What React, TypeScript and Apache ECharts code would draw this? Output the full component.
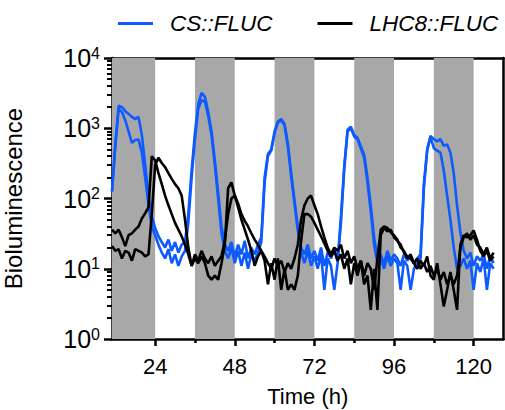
import React, { useEffect, useRef } from "react";
import * as echarts from "echarts";

// ---- data ----
const firstHour = 11; // hourly samples, h = 11 .. 126
const csFluc1 = [
  126, 600, 2100, 2000, 1750, 1600, 1450, 1350, 1450, 800,
  300, 110, 55, 38, 29, 24, 20, 26, 18, 24,
  17, 22, 24, 60, 250, 850, 2200, 3200, 2800, 1700,
  900, 350, 120, 40, 22, 18, 24, 15, 22, 16,
  25, 14, 20, 16, 22, 28, 200, 430, 500, 900,
  1250, 1350, 1150, 600, 230, 95, 40, 20, 16, 22,
  14, 18, 13, 20, 11, 17, 14, 19, 13, 55,
  290, 950, 1050, 800, 730, 550, 420, 200, 80, 28,
  14, 16, 12, 18, 13, 16, 14, 11, 16, 13,
  15, 12, 14, 16, 160, 500, 780, 700, 650, 700,
  560, 590, 450, 230, 80, 33, 18, 14, 17, 11,
  15, 13, 16, 10, 15, 12,
];
const csFluc2 = [
  126, 550, 1900, 1700, 1300, 900, 620, 680, 690, 450,
  200, 80, 40, 30, 22, 17, 14, 19, 12, 16,
  11, 15, 18, 45, 200, 700, 1900, 2500, 2400, 1500,
  800, 300, 100, 32, 18, 14, 20, 12, 18, 11,
  17, 10, 16, 13, 17, 24, 170, 400, 480, 850,
  1200, 1300, 1100, 560, 210, 85, 35, 17, 12, 18,
  11, 15, 10, 16, 5, 14, 11, 5, 12, 45,
  260, 900, 1000, 760, 700, 520, 380, 170, 65, 22,
  12, 14, 10, 15, 11, 14, 12, 5, 13, 11,
  5, 10, 12, 14, 140, 480, 750, 520, 480, 450,
  250, 110, 50, 20, 10, 11, 14, 10, 13, 5,
  12, 9, 14, 5, 12, 10,
];
const lhc8Fluc1 = [
  36, 32, 36, 28, 21, 30, 32, 36, 40, 52,
  62, 75, 400, 350, 230, 160, 110, 80, 60, 45,
  36, 29, 22, 16, 11, 14, 12, 15, 12, 8,
  7, 8, 7, 12, 22, 140, 170, 110, 75, 50,
  36, 26, 18, 11, 15, 18, 13, 6, 12, 7,
  14, 5, 10, 5, 6, 5, 8, 25, 60, 60,
  55, 45, 36, 29, 23, 18, 15, 18, 13, 16,
  10, 14, 6, 12, 8, 13, 6, 8, 2.6, 10,
  2.6, 30, 38, 34, 36, 28, 25, 22, 17, 15,
  14, 12, 10, 13, 11, 15, 8, 7, 12, 6,
  2.9, 5, 9, 5, 2.6, 22, 30, 28, 30, 35,
  26, 18, 15, 18, 13, 15,
];
const lhc8Fluc2 = [
  21, 18, 19, 14, 18, 17, 13, 19, 18, 17,
  15, 16, 60, 300, 380, 320, 280, 230, 190, 160,
  140, 110, 50, 20, 11, 16, 13, 18, 14, 12,
  15, 11, 13, 15, 25, 60, 100, 110, 85, 60,
  48, 40, 32, 26, 22, 18, 15, 12, 10, 14,
  11, 13, 9, 12, 10, 14, 22, 50, 80, 100,
  110, 80, 60, 40, 28, 20, 16, 20, 18, 22,
  14, 18, 12, 15, 10, 13, 8, 12, 10, 5,
  14, 36, 40, 38, 33, 30, 26, 20, 18, 14,
  16, 12, 14, 10, 12, 9, 11, 8, 10, 7,
  9, 6, 8, 6, 8, 20, 28, 32, 26, 30,
  22, 20, 16, 20, 14, 17,
];
const darkPeriods = [
  [11, 24],
  [36, 48],
  [60, 72],
  [84, 96],
  [108, 120],
];
const xMajorTicks = [24, 48, 72, 96, 120];
const xMinorTicks = [36, 60, 84, 108];
const yMinorMultipliers = [2, 3, 4, 5, 6, 7, 8, 9];
const yDecades = [1, 10, 100, 1000];

const BLUE = "#0d5bff";
const GRAY = "#a8a8a8";
const FONT = "'Liberation Sans', Arial, Helvetica, sans-serif";
const X_MIN = 11;
const X_MAX = 129;

function toPairs(values: number[]) {
  return values.map((v, i) => [firstHour + i, v]);
}

const axisLineStyle = { color: "#000", width: 2.5 };

export default function App() {
  const ref = useRef<HTMLDivElement>(null);
  useEffect(() => {
    if (!ref.current) return;
    const chart = echarts.init(ref.current, null, { renderer: "svg" });
    const yMinorLog: number[] = [];
    yDecades.forEach((d) =>
      yMinorMultipliers.forEach((m) => yMinorLog.push(Math.log10(d * m)))
    );
    const lineSeries = (name: string, data: number[], color: string) => ({
      type: "line",
      name,
      data: toPairs(data),
      xAxisIndex: 0,
      yAxisIndex: 0,
      showSymbol: false,
      symbol: "none",
      clip: true,
      z: 3,
      lineStyle: { width: 2.6, color },
      itemStyle: { color },
    });
    chart.setOption({
      animation: false,
      backgroundColor: "#fff",
      textStyle: { fontFamily: FONT },
      grid: {
        left: 112,
        top: 58,
        right: 1.5,
        bottom: 71,
        containLabel: false,
        outerBoundsMode: "none",
      },
      legend: {
        top: 12,
        left: 118,
        width: 420,
        padding: 0,
        icon: "rect",
        itemWidth: 35,
        itemHeight: 3,
        itemGap: 45,
        textStyle: {
          fontSize: 22.5,
          fontStyle: "italic",
          fontFamily: FONT,
          color: "#000",
          padding: [0, 0, 0, 12],
        },
        data: [
          { name: "CS::FLUC", itemStyle: { color: BLUE } },
          { name: "LHC8::FLUC", itemStyle: { color: "#000" } },
        ],
      },
      xAxis: [
        {
          type: "value",
          min: X_MIN,
          max: X_MAX,
          position: "bottom",
          axisLine: { show: true, lineStyle: axisLineStyle },
          axisTick: {
            show: true,
            customValues: xMajorTicks,
            length: 7,
            lineStyle: axisLineStyle,
          },
          axisLabel: {
            customValues: xMajorTicks,
            fontSize: 22,
            color: "#000",
            margin: 16,
            fontFamily: FONT,
          },
          splitLine: { show: false },
          name: "Time (h)",
          nameLocation: "middle",
          nameGap: 46,
          nameTextStyle: { fontSize: 22, color: "#000", fontFamily: FONT },
        },
        {
          type: "value",
          min: X_MIN,
          max: X_MAX,
          position: "bottom",
          axisLine: { show: false },
          axisTick: {
            show: true,
            customValues: xMinorTicks,
            length: 4,
            lineStyle: axisLineStyle,
          },
          axisLabel: { show: false },
          splitLine: { show: false },
        },
        {
          type: "value",
          min: X_MIN,
          max: X_MAX,
          position: "top",
          axisLine: { show: true, lineStyle: axisLineStyle },
          axisTick: { show: false },
          axisLabel: { show: false },
          splitLine: { show: false },
        },
      ],
      yAxis: [
        {
          type: "log",
          logBase: 10,
          min: 1,
          max: 10000,
          position: "left",
          axisLine: { show: true, lineStyle: axisLineStyle },
          axisTick: { show: true, length: 8, lineStyle: axisLineStyle },
          minorTick: { show: false },
          splitLine: { show: false },
          axisLabel: {
            margin: 12,
            formatter: (v: number) => `{b|10}{s|${Math.round(Math.log10(v))}}`,
            rich: {
              b: { fontSize: 25, fontFamily: FONT, color: "#000", lineHeight: 26 },
              s: {
                fontSize: 16,
                fontFamily: FONT,
                color: "#000",
                padding: [0, 0, 10, 0],
              },
            },
          },
          name: "Bioluminescence",
          nameLocation: "middle",
          nameGap: 87,
          nameTextStyle: { fontSize: 24, color: "#000", fontFamily: FONT },
        },
        {
          type: "value",
          min: 0,
          max: 4,
          position: "left",
          axisLine: { show: false },
          axisTick: {
            show: true,
            customValues: yMinorLog,
            length: 5,
            lineStyle: { color: "#000", width: 2 },
          },
          axisLabel: { show: false },
          splitLine: { show: false },
        },
        {
          type: "log",
          logBase: 10,
          min: 1,
          max: 10000,
          position: "right",
          axisLine: { show: true, lineStyle: axisLineStyle },
          axisTick: { show: false },
          axisLabel: { show: false },
          splitLine: { show: false },
        },
      ],
      series: [
        {
          type: "custom",
          xAxisIndex: 0,
          yAxisIndex: 0,
          silent: true,
          z: 1,
          data: darkPeriods,
          encode: { x: [0, 1] },
          renderItem: (params: any, api: any) => {
            const p0 = api.coord([api.value(0), 10000]);
            const p1 = api.coord([api.value(1), 1]);
            const cs = params.coordSys;
            const shape = echarts.graphic.clipRectByRect(
              { x: p0[0], y: p0[1], width: p1[0] - p0[0], height: p1[1] - p0[1] },
              { x: cs.x, y: cs.y, width: cs.width, height: cs.height }
            );
            return shape ? { type: "rect", shape, style: { fill: GRAY } } : null;
          },
        },
        lineSeries("CS::FLUC", csFluc1, BLUE),
        lineSeries("CS::FLUC", csFluc2, BLUE),
        lineSeries("LHC8::FLUC", lhc8Fluc1, "#000"),
        lineSeries("LHC8::FLUC", lhc8Fluc2, "#000"),
      ],
    });
    return () => chart.dispose();
  }, []);
  return (
    <div
      ref={ref}
      style={{ position: "fixed", left: 0, top: 0, width: 505, height: 410 }}
    />
  );
}
